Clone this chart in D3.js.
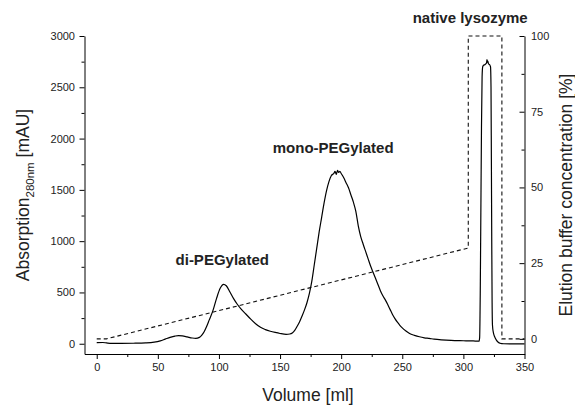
<!DOCTYPE html>
<html>
<head>
<meta charset="utf-8">
<script src="https://cdn.jsdelivr.net/npm/d3@7"></script>
<style>
  html, body { margin: 0; padding: 0; background: #fff; }
  svg { display: block; font-family: "Liberation Sans", Arial, sans-serif; }
</style>
</head>
<body>
<svg id="chart" width="575" height="405"></svg>
<script>
// ---- Data ----
const volumeTicks = [0, 50, 100, 150, 200, 250, 300, 350];
const volumeMinorTicks = [25, 75, 125, 175, 225, 275, 325];
const absTicks = [0, 500, 1000, 1500, 2000, 2500, 3000];
const absMinorTicks = [250, 750, 1250, 1750, 2250, 2750];
const concTicks = [0, 25, 50, 75, 100];
const concMinorTicks = [12.5, 37.5, 62.5, 87.5];

// Absorption (mAU) vs volume (ml)
const absVolume = [0, 5, 8, 12, 20, 30, 40, 47, 52, 56, 60, 64, 67, 70, 74, 78, 81, 84, 86, 88, 90, 92, 95, 98, 101, 103.8, 106, 109, 112, 115, 118, 122, 126, 130, 134, 138, 142, 146, 150, 155, 158, 160, 162, 164, 166, 168, 170, 172, 174, 176, 178, 180, 182, 184, 186, 188, 190, 192, 194, 195, 196, 197, 198, 199, 200, 202, 204, 206, 208, 210, 212, 214, 216, 218, 220, 222, 224, 226, 228, 230, 232, 234, 236, 238, 240, 242, 244, 246, 248, 250, 253, 256, 260, 264, 268, 272, 276, 282, 290, 300, 308, 312.8, 313.3, 313.8, 314.3, 314.8, 315.3, 315.8, 316.5, 317.5, 318.5, 319, 319.3, 319.6, 320, 320.5, 321.5, 322.2, 322.6, 322.9, 323.2, 323.5, 323.8, 324.5, 325.5, 327, 328.5, 330, 333, 340, 350];
const absValue  = [10, 12, 8, 4, 4, 5, 8, 15, 28, 45, 62, 75, 80, 77, 67, 56, 52, 62, 85, 120, 170, 230, 320, 440, 540, 579, 565, 505, 440, 385, 340, 290, 240, 195, 160, 138, 122, 110, 100, 92, 95, 105, 130, 170, 215, 270, 330, 400, 490, 610, 770, 930, 1090, 1230, 1370, 1490, 1580, 1640, 1660, 1680, 1650, 1690, 1670, 1680, 1660, 1620, 1570, 1520, 1450, 1380, 1290, 1150, 1045, 970, 900, 830, 760, 700, 640, 580, 520, 470, 430, 385, 335, 285, 245, 210, 180, 155, 125, 100, 82, 68, 58, 52, 45, 38, 32, 29, 27, 25, 60, 500, 1300, 2100, 2600, 2700, 2715, 2720, 2730, 2740, 2770, 2745, 2755, 2730, 2720, 2700, 2500, 1800, 1000, 400, 180, 110, 70, 35, 15, 5, 0, -1, -2];

// Elution buffer concentration (%) vs volume (ml)
const concVolume = [0, 8, 304, 304, 331.5, 331.5, 350];
const concValue  = [0, 0, 30, 100, 100, 0, 0];

// Annotations
const labelTexts = ["native lysozyme", "mono-PEGylated", "di-PEGylated"];
const labelVolume = [258.5, 144, 64.5];
const labelAbs = [3130, 1860, 770];

// ---- Chart ----
const svg = d3.select("#chart");
const mLeft = 84.5, mRight = 524.5, mTop = 36, mBottom = 354;

const x = d3.scaleLinear().domain([-10, 350]).range([mLeft, mRight]);
const y = d3.scaleLinear().domain([-100, 3000]).range([mBottom, mTop]);
const y2 = d3.scaleLinear().domain([-5, 100]).range([mBottom, mTop]);

const fontSize = 11;
const fmt = d3.format("d");

function styleAxis(g) {
  g.selectAll("path.domain").attr("stroke", "#000").attr("stroke-width", 1);
  g.selectAll(".tick line").attr("stroke", "#000").attr("stroke-width", 1);
  g.selectAll("text").attr("font-size", fontSize).attr("fill", "#222")
    .attr("font-family", "Liberation Sans, Arial, sans-serif");
}

// X axis
const gx = svg.append("g").attr("transform", `translate(0,${mBottom})`)
  .call(d3.axisBottom(x).tickValues(volumeTicks).tickFormat(fmt).tickSize(5).tickSizeOuter(0).tickPadding(4.5));
styleAxis(gx);
const gxm = svg.append("g").attr("transform", `translate(0,${mBottom})`)
  .call(d3.axisBottom(x).tickValues(volumeMinorTicks).tickSize(3).tickSizeOuter(0).tickFormat(""));
gxm.select("path.domain").remove();
styleAxis(gxm);

// Left axis
const gy = svg.append("g").attr("transform", `translate(${mLeft},0)`)
  .call(d3.axisLeft(y).tickValues(absTicks).tickFormat(fmt).tickSize(5).tickSizeOuter(0).tickPadding(4.5));
styleAxis(gy);
const gym = svg.append("g").attr("transform", `translate(${mLeft},0)`)
  .call(d3.axisLeft(y).tickValues(absMinorTicks).tickSize(3).tickSizeOuter(0).tickFormat(""));
gym.select("path.domain").remove();
styleAxis(gym);

// Right axis (ticks inward)
const gy2 = svg.append("g").attr("transform", `translate(${mRight},0)`)
  .call(d3.axisRight(y2).tickValues(concTicks).tickFormat(fmt).tickSize(-5).tickSizeOuter(0).tickPadding(6.5));
styleAxis(gy2);
const gy2m = svg.append("g").attr("transform", `translate(${mRight},0)`)
  .call(d3.axisRight(y2).tickValues(concMinorTicks).tickSize(-3).tickSizeOuter(0).tickFormat(""));
gy2m.select("path.domain").remove();
styleAxis(gy2m);

// Dashed gradient line
const concData = concVolume.map((v, i) => [v, concValue[i]]);
svg.append("path")
  .datum(concData)
  .attr("fill", "none")
  .attr("stroke", "#111")
  .attr("stroke-width", 1.1)
  .attr("stroke-dasharray", "4,3")
  .attr("d", d3.line().x(d => x(d[0])).y(d => y2(d[1])));

// Absorption line
const absData = absVolume.map((v, i) => [v, absValue[i]]);
svg.append("path")
  .datum(absData)
  .attr("fill", "none")
  .attr("stroke", "#000")
  .attr("stroke-width", 1.2)
  .attr("stroke-linejoin", "round")
  .attr("d", d3.line().curve(d3.curveMonotoneX).x(d => x(d[0])).y(d => y(d[1])));

// Annotations
labelTexts.forEach((t, i) => {
  svg.append("text")
    .attr("x", x(labelVolume[i]))
    .attr("y", y(labelAbs[i]))
    .attr("font-size", 15)
    .attr("font-weight", "bold")
    .attr("fill", "#222")
    .text(t);
});

// Axis titles
svg.append("text")
  .attr("x", 308).attr("y", 401)
  .attr("text-anchor", "middle")
  .attr("font-size", 17.5)
  .attr("fill", "#222")
  .text("Volume [ml]");

const lt = svg.append("text")
  .attr("transform", "translate(28.5,195) rotate(-90)")
  .attr("text-anchor", "middle")
  .attr("font-size", 17.5)
  .attr("fill", "#222");
lt.append("tspan").text("Absorption");
lt.append("tspan").attr("font-size", 11.5).attr("dy", 5).text("280nm");
lt.append("tspan").attr("dy", -5).text(" [mAU]");

svg.append("text")
  .attr("transform", "translate(572,195) rotate(-90)")
  .attr("text-anchor", "middle")
  .attr("font-size", 17.5)
  .attr("fill", "#222")
  .text("Elution buffer concentration [%]");
</script>
</body>
</html>
